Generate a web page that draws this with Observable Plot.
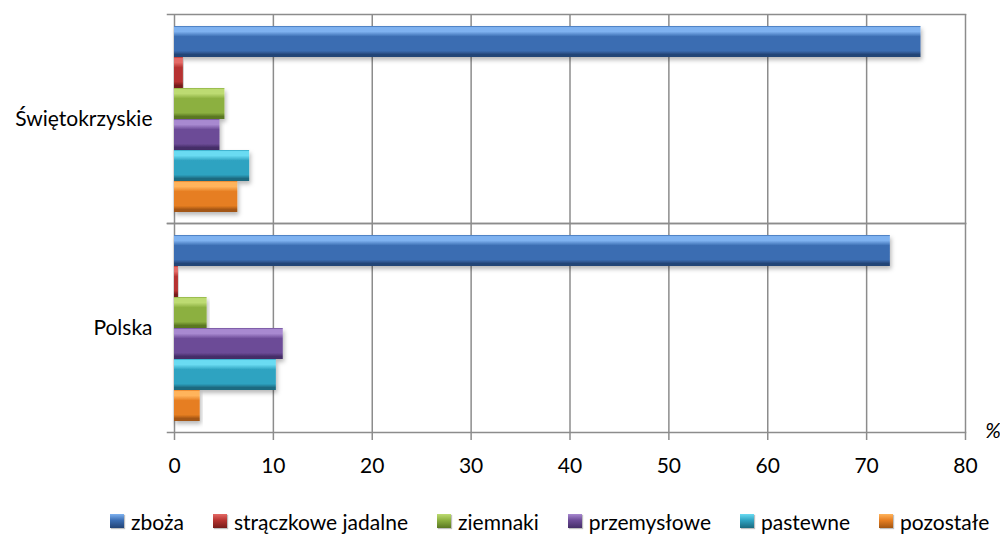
<!DOCTYPE html>
<html>
<head>
<meta charset="utf-8">
<script src="https://cdn.jsdelivr.net/npm/d3@7"></script>
<script src="https://cdn.jsdelivr.net/npm/@observablehq/plot@0.6"></script>
<style>
  body { margin: 0; background: #fff; }
  #wrap { width: 1000px; height: 534px; position: relative; font-family: Lato, "Open Sans", sans-serif; }
  #legend { display: flex; align-items: center; gap: 29px; padding-left: 110px; height: 24px; margin-top: 29px; font-size: 21px; color: #000; }
  .item { display: flex; align-items: center; gap: 7px; white-space: nowrap; }
  .sw { width: 14px; height: 14px; box-sizing: border-box; box-shadow: 1px 1px 1px rgba(0,0,0,0.25); }
</style>
</head>
<body>
<div id="wrap"></div>
<script>
// ---- data ----
const regions = ["Świętokrzyskie", "Polska"];
const categories = ["zboża", "strączkowe jadalne", "ziemnaki", "przemysłowe", "pastewne", "pozostałe"];
const valuesSwietokrzyskie = [75.5, 0.9, 5.1, 4.6, 7.6, 6.4];
const valuesPolska = [72.4, 0.4, 3.3, 11.0, 10.3, 2.6];
const xTicks = [0, 10, 20, 30, 40, 50, 60, 70, 80];
const unitLabel = "%";

// colour triples: light, base, dark
const palette = [
  ["#7fb2f0", "#3b6db2", "#234476"],
  ["#e46a66", "#b63330", "#761c1a"],
  ["#bddb72", "#8cb040", "#5a7822"],
  ["#a889d0", "#6c4b97", "#452e68"],
  ["#6adbf2", "#2fa3c1", "#1a6a80"],
  ["#ffb45c", "#e67e22", "#a35612"]
];

const valuesByRegion = [valuesSwietokrzyskie, valuesPolska];
const data = regions.flatMap((r, ri) =>
  categories.map((c, ci) => ({region: r, category: c, value: valuesByRegion[ri][ci]}))
);

const gridColor = "#8c8c8c";
const FS = 21;

const chart = Plot.plot({
  width: 1000,
  height: 480,
  marginLeft: 174,
  marginRight: 35,
  marginTop: 13,
  marginBottom: 48,
  style: {fontFamily: "Lato, 'Open Sans', sans-serif", fontSize: FS + "px", color: "#000", background: "#fff", overflow: "visible"},
  x: {domain: [0, 80], ticks: xTicks},
  y: {domain: categories, paddingInner: 0, paddingOuter: 0.37, axis: null},
  fy: {domain: regions, padding: 0},
  color: {domain: categories, range: categories.map((c, i) => `url(#bev${i})`)},
  marks: [
    Plot.gridX(xTicks, {stroke: gridColor, strokeOpacity: 1, strokeWidth: 1.5}),
    Plot.frame({anchor: "top", stroke: gridColor, strokeWidth: 1.5, insetLeft: -7}),
    Plot.frame({anchor: "bottom", stroke: gridColor, strokeWidth: 1.5, insetLeft: -7}),
    Plot.barX(data, {x: "value", y: "category", fy: "region", fill: "category"}),
    Plot.axisX(xTicks, {anchor: "bottom", tickSize: 8, tickPadding: 18, stroke: gridColor, strokeWidth: 1.5, fill: "#000", label: null, fontSize: FS}),
    Plot.axisFy({anchor: "left", tickSize: 0, tickPadding: 22, label: null, fontSize: FS, fill: "#000"})
  ]
});

// gradient defs + shadow
const svg = d3.select(chart);
const defs = svg.insert("defs", ":first-child");
palette.forEach(([light, base, dark], i) => {
  const g = defs.append("linearGradient").attr("id", `bev${i}`).attr("x1", 0).attr("y1", 0).attr("x2", 0).attr("y2", 1);
  [[0, base], [0.05, light], [0.18, light], [0.34, base], [0.8, base], [0.92, dark], [1, dark]].forEach(([o, c]) =>
    g.append("stop").attr("offset", o).attr("stop-color", c));
});
const f = defs.append("filter").attr("id", "shadow").attr("x", "-5%").attr("y", "-20%").attr("width", "115%").attr("height", "160%");
f.append("feDropShadow").attr("dx", 1.5).attr("dy", 3).attr("stdDeviation", 2).attr("flood-color", "#000").attr("flood-opacity", 0.28);
svg.selectAll("g[aria-label='bar'] rect").attr("filter", "url(#shadow)");

// unit label next to the x axis end
const xs = chart.scale("x");
svg.append("text")
  .attr("x", xs.apply(80) + 28)
  .attr("y", 480 - 48 + 6)
  .attr("text-anchor", "middle")
  .attr("font-style", "italic")
  .attr("font-size", FS)
  .attr("fill", "#000")
  .text(unitLabel);

const wrap = document.getElementById("wrap");
wrap.appendChild(chart);

const legend = document.createElement("div");
legend.id = "legend";
categories.forEach((c, i) => {
  const [light, base, dark] = palette[i];
  const item = document.createElement("div");
  item.className = "item";
  const sw = document.createElement("span");
  sw.className = "sw";
  sw.style.background = `linear-gradient(${light}, ${base} 45%, ${dark})`;
  const t = document.createElement("span");
  t.textContent = c;
  item.appendChild(sw);
  item.appendChild(t);
  legend.appendChild(item);
});
wrap.appendChild(legend);
</script>
</body>
</html>
